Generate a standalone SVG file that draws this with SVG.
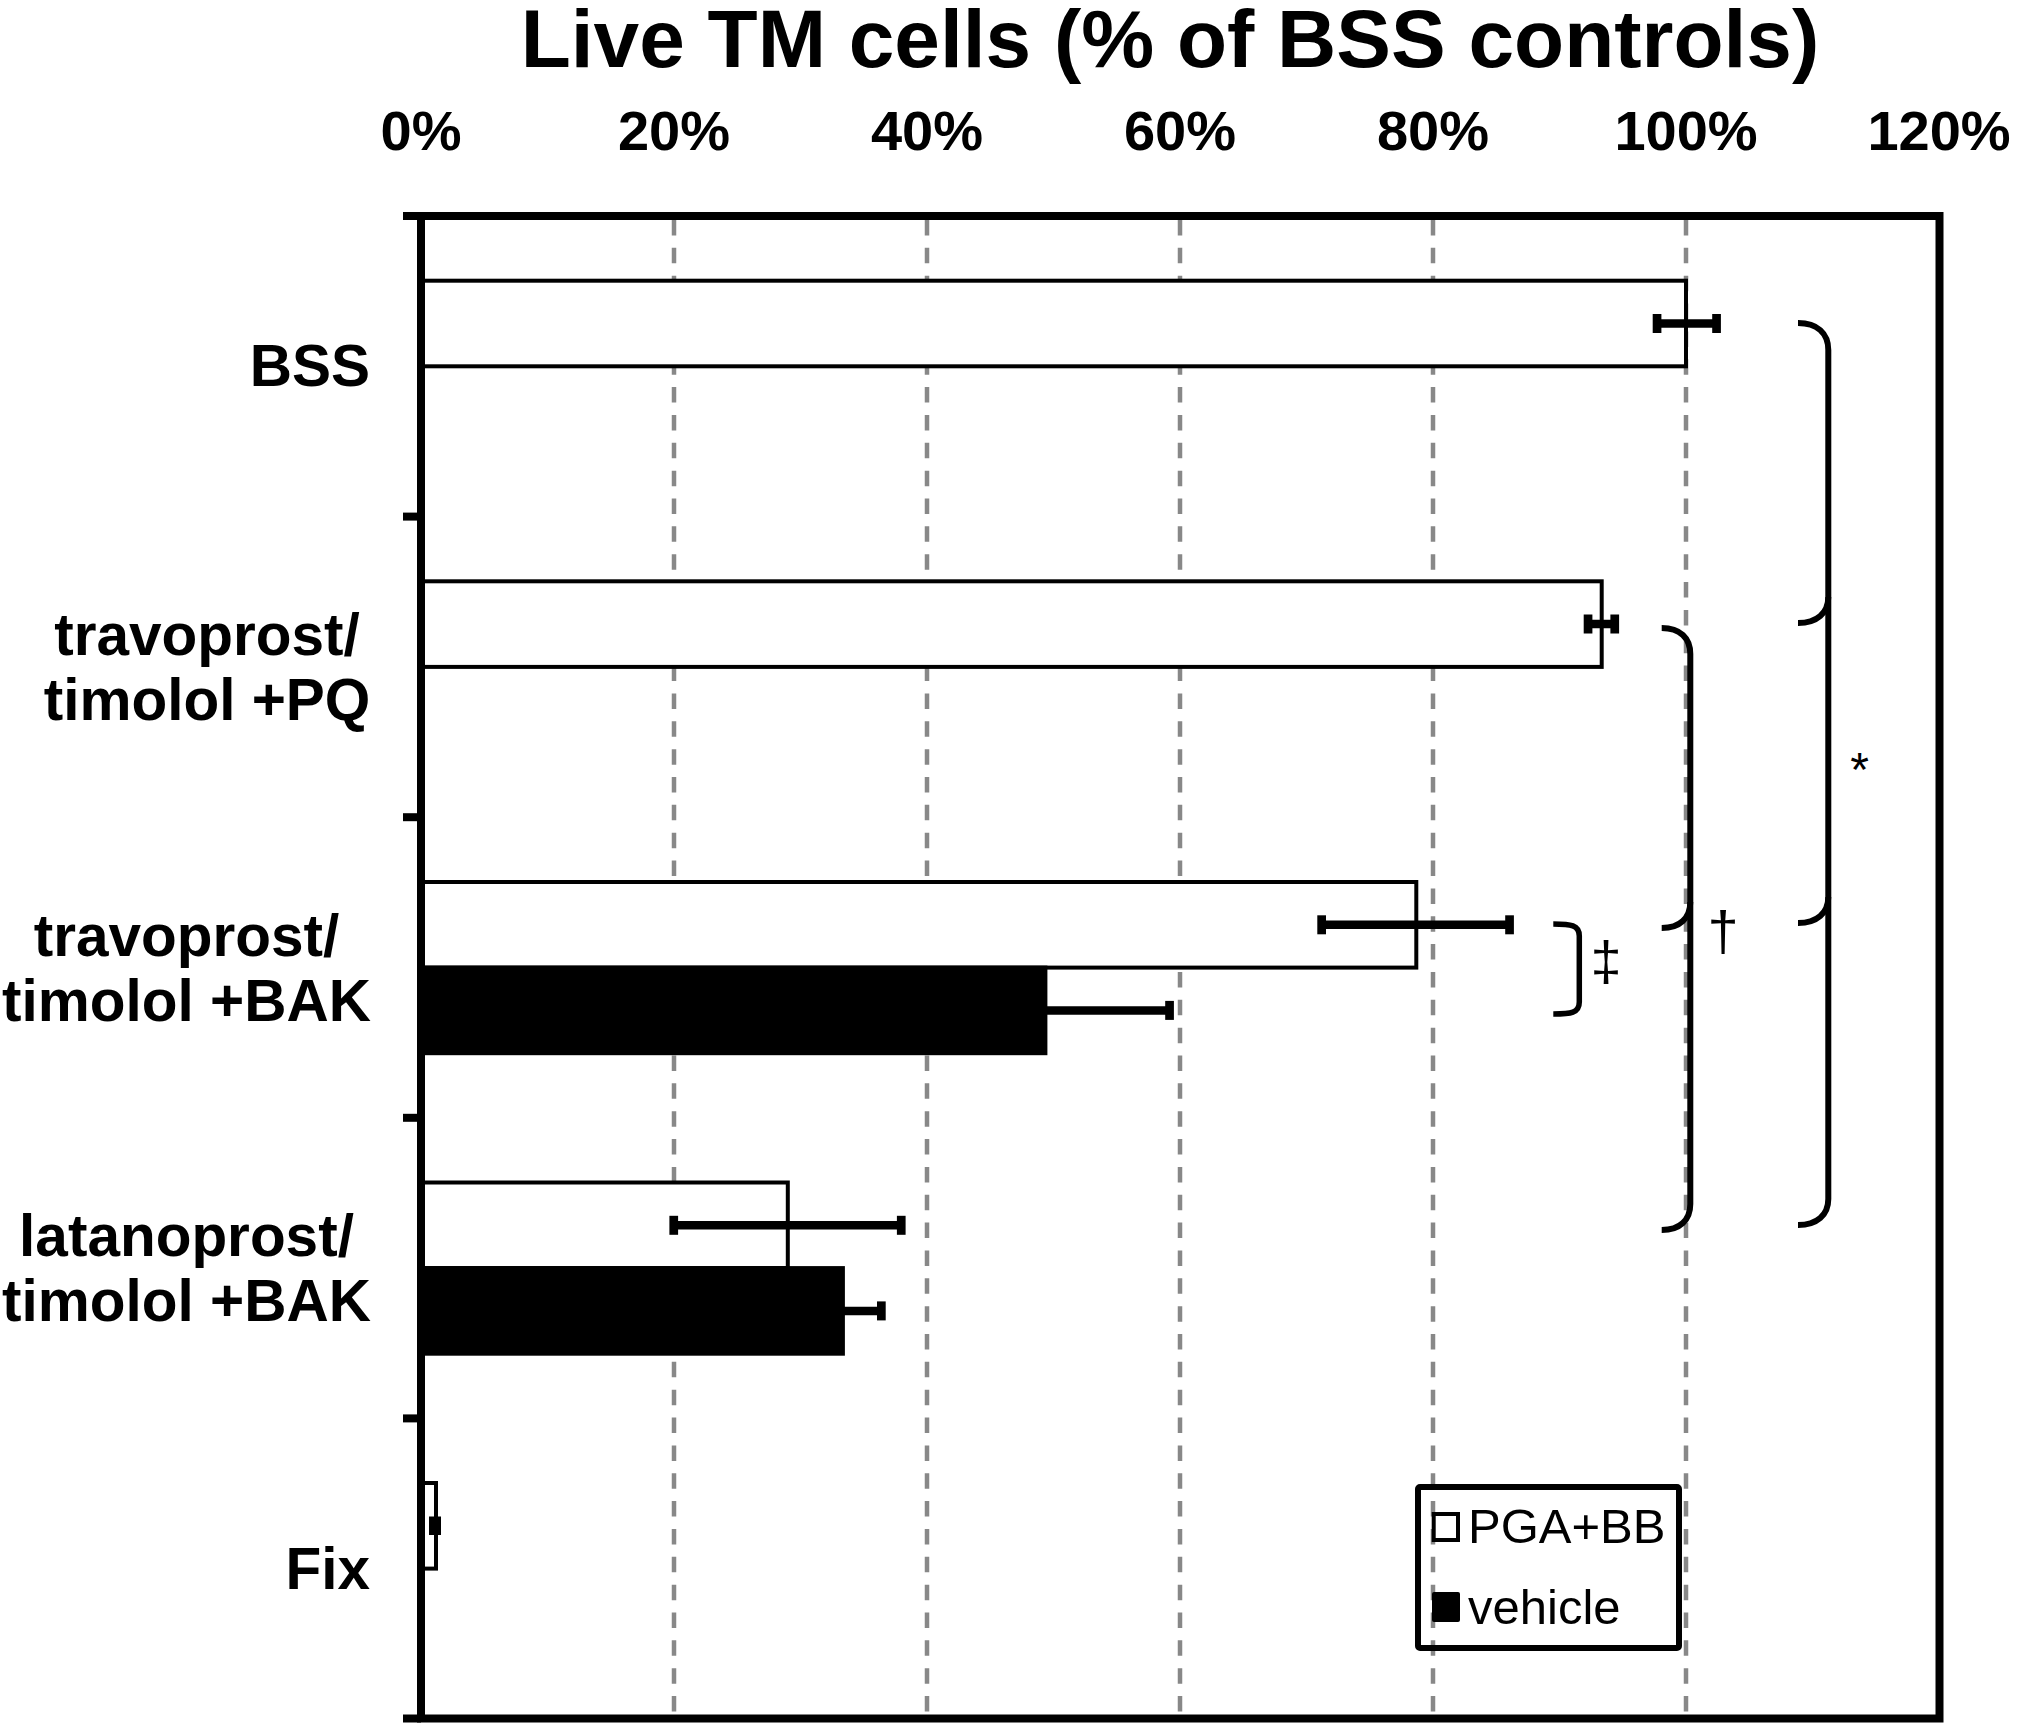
<svg xmlns="http://www.w3.org/2000/svg" width="2020" height="1724" viewBox="0 0 2020 1724">
<style>
text{font-family:"Liberation Sans",Arial,sans-serif;fill:#000}
.title{font-size:82px;font-weight:bold;text-anchor:middle}
.tick{font-size:56px;font-weight:bold;text-anchor:middle}
.cat{font-size:58.5px;font-weight:bold;text-anchor:middle}
.catr{font-size:58.5px;font-weight:bold;text-anchor:end}
.ann{font-size:48px;text-anchor:middle}
.dag{font-size:56px;text-anchor:middle}
.leg{font-size:49px}
.grid{stroke:#888;stroke-width:4.5;stroke-dasharray:15.5 12.35;fill:none}
.wbar{fill:#fff;stroke:#000;stroke-width:4}
.bbar{fill:#000;stroke:#000;stroke-width:4}
.err{stroke:#000;stroke-width:8.5;fill:none}
.cap{fill:#000}
.brace{fill:none;stroke:#000;stroke-width:6;stroke-linecap:butt}
.axis{fill:none;stroke:#000;stroke-width:8}
</style>
<rect width="2020" height="1724" fill="#fff"/>
<g id="title"><text class="title" x="1170" y="67">Live TM cells (% of BSS controls)</text></g>
<g id="x-axis-labels">
<text class="tick" x="421" y="150">0%</text>
<text class="tick" x="674" y="150">20%</text>
<text class="tick" x="927" y="150">40%</text>
<text class="tick" x="1180" y="150">60%</text>
<text class="tick" x="1433" y="150">80%</text>
<text class="tick" x="1686" y="150">100%</text>
<text class="tick" x="1939" y="150">120%</text>
</g>
<g id="gridlines">
<line class="grid" x1="674" y1="220" x2="674" y2="1715"/>
<line class="grid" x1="927" y1="220" x2="927" y2="1715"/>
<line class="grid" x1="1180" y1="220" x2="1180" y2="1715"/>
<line class="grid" x1="1433" y1="220" x2="1433" y2="1715"/>
<line class="grid" x1="1686" y1="220" x2="1686" y2="1715"/>
</g>
<g id="bar-bss"><rect class="wbar" x="421" y="280.7" width="1265" height="85.6"/></g>
<g id="bar-travo-pq"><rect class="wbar" x="421" y="581.3" width="1180.7" height="85.6"/></g>
<g id="bar-travo-bak">
<rect class="wbar" x="421" y="882" width="995.3" height="85.6"/>
<rect class="bbar" x="421" y="967.6" width="624.4" height="85.6"/>
</g>
<g id="bar-latano-bak">
<rect class="wbar" x="421" y="1182.5" width="366.8" height="85.6"/>
<rect class="bbar" x="421" y="1268.1" width="421.9" height="85.6"/>
</g>
<g id="bar-fix"><rect class="wbar" x="421" y="1483" width="15" height="85.6"/></g>
<g id="error-bars">
<line class="err" x1="1657" y1="323.5" x2="1716.5" y2="323.5"/>
<rect class="cap" x="1652.7" y="314" width="8.7" height="19"/>
<rect class="cap" x="1712.2" y="314" width="8.7" height="19"/>
<line class="err" x1="1588" y1="624" x2="1614.7" y2="624"/>
<rect class="cap" x="1583.7" y="614.5" width="8.7" height="19"/>
<rect class="cap" x="1610.4" y="614.5" width="8.7" height="19"/>
<line class="err" x1="1321.7" y1="924.8" x2="1509.5" y2="924.8"/>
<rect class="cap" x="1317.3" y="915.3" width="8.7" height="19"/>
<rect class="cap" x="1505.2" y="915.3" width="8.7" height="19"/>
<line class="err" x1="1045" y1="1010.4" x2="1169.5" y2="1010.4"/>
<rect class="cap" x="1165.2" y="1000.9" width="8.7" height="19"/>
<line class="err" x1="673.7" y1="1225.3" x2="901.2" y2="1225.3"/>
<rect class="cap" x="669.4" y="1215.8" width="8.7" height="19"/>
<rect class="cap" x="896.9" y="1215.8" width="8.7" height="19"/>
<line class="err" x1="842.9" y1="1310.9" x2="881.3" y2="1310.9"/>
<rect class="cap" x="877" y="1301.4" width="8.7" height="19"/>
<rect class="cap" x="429" y="1516.5" width="12" height="18.5"/>
</g>
<g id="frame">
<rect class="axis" x="421" y="216" width="1518.5" height="1502.5"/>
<line class="axis" x1="403" y1="216" x2="421" y2="216"/>
<line class="axis" x1="403" y1="516.6" x2="421" y2="516.6"/>
<line class="axis" x1="403" y1="817.2" x2="421" y2="817.2"/>
<line class="axis" x1="403" y1="1117.8" x2="421" y2="1117.8"/>
<line class="axis" x1="403" y1="1418.4" x2="421" y2="1418.4"/>
<line class="axis" x1="403" y1="1718.5" x2="421" y2="1718.5"/>
</g>
<g id="category-labels">
<text class="catr" x="370" y="386">BSS</text>
<text class="cat" x="207" y="655">travoprost/</text>
<text class="cat" x="207" y="720">timolol +PQ</text>
<text class="cat" x="186.5" y="955.5">travoprost/</text>
<text class="cat" x="186.5" y="1020.5">timolol +BAK</text>
<text class="cat" x="186.5" y="1256">latanoprost/</text>
<text class="cat" x="186.5" y="1321">timolol +BAK</text>
<text class="catr" x="370" y="1589">Fix</text>
</g>
<g id="connectors">
<path class="brace" d="M1798,323 C1817,323 1828.3,333 1828.3,350 V1199 C1828.3,1215 1817,1225 1798,1225"/>
<path class="brace" d="M1828.3,597 C1828.3,613 1817,623 1798,623"/>
<path class="brace" d="M1828.3,897 C1828.3,913 1817,923 1798,923"/>
<path class="brace" d="M1661.7,628 C1680,628 1690.3,638 1690.3,654 V1204 C1690.3,1220 1680,1230 1661.7,1230"/>
<path class="brace" d="M1690.3,902 C1690.3,918 1680,928 1661.7,928"/>
<path class="brace" d="M1553.3,924 C1571,924 1579.3,925 1579.3,936 V1002 C1579.3,1013 1571,1014 1553.3,1014" style="stroke-width:5.5"/>
</g>
<g id="significance-labels">
<text class="ann" x="1859.5" y="786">*</text>
<text class="dag" x="1723" y="949.5">†</text>
<text class="dag" x="1606" y="980">‡</text>
</g>
<g id="legend">
<rect x="1418" y="1487" width="261" height="161" rx="2" fill="none" stroke="#000" stroke-width="6"/>
<rect x="1433.7" y="1514" width="24.3" height="26" fill="#fff" stroke="#000" stroke-width="4"/>
<rect x="1432" y="1592" width="28" height="30" rx="2" fill="#000"/>
<text class="leg" x="1468" y="1543">PGA+BB</text>
<text class="leg" x="1468" y="1624">vehicle</text>
</g>
</svg>
